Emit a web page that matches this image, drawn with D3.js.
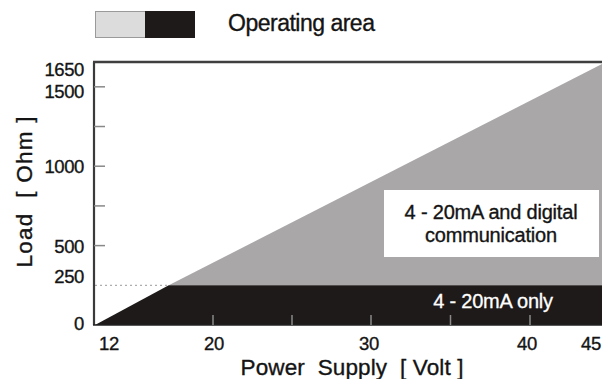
<!DOCTYPE html>
<html><head><meta charset="utf-8">
<script src="https://cdn.jsdelivr.net/npm/d3@7"></script>
<style>
html,body{margin:0;padding:0;background:#fff;}
svg{display:block;font-family:"Liberation Sans",Arial,sans-serif;}
</style></head>
<body>
<svg id="c" width="602" height="379"></svg>
<script>
// ---- data ----
const vMin = 12, vMax = 45;          // power supply range [Volt]
const loadMax = 1650;                // load at vMax [Ohm]
const loadDigital = 250;             // minimum load for digital communication [Ohm]
const xTickLabels = [12, 20, 30, 40, 45];
const xTickMarks = [20, 25, 30, 35, 40];
const yTickLabels = [0, 250, 500, 1000, 1500, 1650];
const yTickMarks = [500, 750, 1000, 1250, 1500];
const regionLabels = ["4 - 20mA and digital", "communication"];
const bandLabel = "4 - 20mA only";
const legendLabel = "Operating area";
const xTitle = "Power  Supply  [ Volt ]";
const yTitle = "Load  [ Ohm ]";

// ---- layout ----
const svg = d3.select("#c");
const x = d3.scaleLinear().domain([12, 20, 30, 40, 45]).range([95, 213, 371, 530, 604]);
const y = d3.scaleLinear().domain([0, loadMax]).range([325, 63]);
// load line R = (V - vMin) / 0.02
const vAt = r => vMin + r * 0.02;
const vDig = vAt(loadDigital);

const gray = "#a9a7a8", black = "#1e1a19", ink = "#141414";
const heavy = sel => sel.attr("fill", ink).attr("stroke", ink).attr("stroke-width", 0.35);

// gray region (above 250 Ohm)
svg.append("path")
  .attr("d", d3.line()([[x(vDig), y(loadDigital)], [x(vMax), y(loadMax)], [x(vMax), y(loadDigital)]]))
  .attr("fill", gray);
// black region (below 250 Ohm)
svg.append("path")
  .attr("d", d3.line()([[x(vMin), y(0)], [x(vDig), y(loadDigital)], [x(vMax), y(loadDigital)], [x(vMax), y(0)]]))
  .attr("fill", black);

// dotted guide at 250
svg.append("line")
  .attr("x1", x(vMin)).attr("x2", x(vDig))
  .attr("y1", y(loadDigital)).attr("y2", y(loadDigital))
  .attr("stroke", "#999").attr("stroke-width", 1).attr("stroke-dasharray", "2,3");

// frame: left axis and top line
svg.append("line").attr("x1", 94).attr("x2", 94).attr("y1", y(loadMax) - 1).attr("y2", y(0))
  .attr("stroke", "#3a3a3a").attr("stroke-width", 2.2);
svg.append("line").attr("x1", 93).attr("x2", 602).attr("y1", 62).attr("y2", 62)
  .attr("stroke", "#3f3f3f").attr("stroke-width", 2.4);
svg.append("line").attr("x1", 93).attr("x2", 602).attr("y1", y(0)).attr("y2", y(0))
  .attr("stroke", "#222").attr("stroke-width", 1.5);

// y ticks (inward)
svg.selectAll(".yt").data(yTickMarks).join("line")
  .attr("x1", 94).attr("x2", 105)
  .attr("y1", d => y(d)).attr("y2", d => y(d))
  .attr("stroke", "#888").attr("stroke-width", 1.5);
// x ticks (inward, upward)
svg.selectAll(".xt").data(xTickMarks).join("line")
  .attr("x1", d => x(d)).attr("x2", d => x(d))
  .attr("y1", y(0)).attr("y2", y(0) - 10)
  .attr("stroke", "#8a8a8a").attr("stroke-width", 1.5);

// y tick labels
const yNudge = {1650: 6, 1500: 5, 1000: 0, 500: 1, 250: -9, 0: -2};
svg.selectAll(".yl").data(yTickLabels).join("text")
  .attr("x", 84).attr("y", d => y(d) + yNudge[d])
  .attr("dy", "0.36em").attr("text-anchor", "end")
  .attr("font-size", 18.5).attr("letter-spacing", -0.4).call(heavy).text(d => d);

// x tick labels
const xNudge = {12: 14, 20: 1, 30: -2, 40: -3, 45: -13};
svg.selectAll(".xl").data(xTickLabels).join("text")
  .attr("x", d => x(d) + xNudge[d]).attr("y", 350)
  .attr("text-anchor", "middle")
  .attr("font-size", 18.5).attr("letter-spacing", -0.4).call(heavy).text(d => d);

// axis titles
svg.append("text").attr("x", 352).attr("y", 375).attr("text-anchor", "middle")
  .attr("font-size", 22.5).call(heavy)
  .attr("textLength", 223).attr("lengthAdjust", "spacing")
  .style("white-space", "pre").text(xTitle);
svg.append("text").attr("transform", "translate(32,192) rotate(-90)").attr("text-anchor", "middle")
  .attr("font-size", 22.5).call(heavy)
  .attr("textLength", 151).attr("lengthAdjust", "spacing")
  .style("white-space", "pre").text(yTitle);

// white annotation box
svg.append("rect").attr("x", 384).attr("y", 190).attr("width", 215).attr("height", 67).attr("fill", "#fff");
svg.selectAll(".rl").data(regionLabels).join("text")
  .attr("x", 491).attr("y", (d, i) => 219 + i * 23)
  .attr("text-anchor", "middle").attr("font-size", 20).attr("letter-spacing", -0.2).call(heavy).text(d => d);
svg.append("text").attr("x", 493).attr("y", 308).attr("text-anchor", "middle")
  .attr("font-size", 20).attr("letter-spacing", -0.2)
  .attr("fill", "#fff").attr("stroke", "#fff").attr("stroke-width", 0.3).text(bandLabel);

// legend
svg.append("rect").attr("x", 95.5).attr("y", 11.5).attr("width", 50).attr("height", 26)
  .attr("fill", "#dcdcdc").attr("stroke", "#9a9a9a").attr("stroke-width", 1);
svg.append("rect").attr("x", 145).attr("y", 11).attr("width", 50).attr("height", 27)
  .attr("fill", black);
svg.append("text").attr("x", 228).attr("y", 31).attr("font-size", 23).attr("letter-spacing", -0.5)
  .call(heavy).text(legendLabel);
</script>
</body></html>
